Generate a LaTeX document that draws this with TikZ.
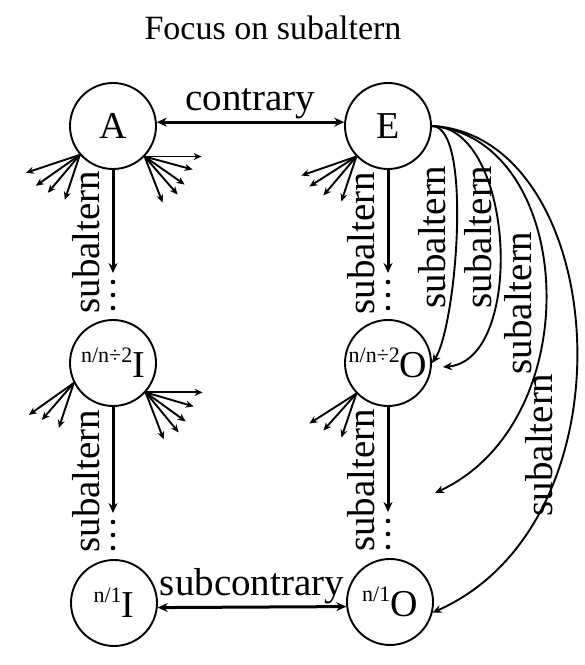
\documentclass[tikz,border=0pt]{standalone}
\usepackage{fontspec}
\setmainfont{Liberation Serif}
\usetikzlibrary{arrows.meta}
\newcommand{\leftsup}[1]{{\fontsize{22}{22}\selectfont\raisebox{15pt}{#1}}}
\tikzset{
  termnode/.style={circle,draw,line width=1.9pt,minimum size=86pt,inner sep=0pt,font=\fontsize{38}{40}\selectfont},
  oppo/.style={{Stealth[length=10pt,width=9pt]}-{Stealth[length=10pt,width=9pt]},line width=3pt},
  subarr/.style={-{Stealth[length=10pt,width=9pt]},line width=3pt},
  fanarr/.style={-{Stealth[length=8pt,width=7pt]},line width=1.9pt},
  subcurve/.style={-{Stealth[length=9pt,width=8pt]},line width=1.9pt},
  rellabel/.style={font=\fontsize{39}{40}\selectfont,inner sep=2pt},
  vlab/.style={rellabel,rotate=90,anchor=south,inner xsep=0pt,inner ysep=12pt}
}
\begin{document}
\begin{tikzpicture}[x=1pt,y=1pt]
\useasboundingbox (0,0) rectangle (585,665);
\node[font=\fontsize{34}{36}\selectfont,anchor=base] (title) at (273,625) {Focus on subaltern};
\node[termnode] (A) at (113,539) {A};
\node[termnode] (E) at (388,539) {E};
\node[termnode] (Im) at (113,302) {\leftsup{n/n÷2}I};
\node[termnode] (Om) at (388,302) {\leftsup{n/n÷2}O};
\node[termnode] (Ib) at (114,62) {\leftsup{n/1}I};
\node[termnode] (Ob) at (390,63) {\leftsup{n/1}O};
\coordinate (gA) at (113,392);
\coordinate (gE) at (388,392);
\coordinate (gI) at (113,152);
\coordinate (gO) at (388,153);
\coordinate (tipa) at (443,298);
\coordinate (tipb) at (435,172);
\draw[oppo] (A.5) -- (E.175) node[rellabel,midway,above] {contrary};
\draw[oppo] (Ib.-6) -- (Ob.186) node[rellabel,midway,above] {subcontrary};
\draw[subarr] (A) -- (gA) node[vlab,pos=.7] {subaltern};
\draw[subarr] (E) -- (gE) node[vlab,pos=.71] {subaltern};
\draw[subarr] (Im) -- (gI) node[vlab,pos=.7] {subaltern};
\draw[subarr] (Om) -- (gO) node[vlab,pos=.7] {subaltern};
\foreach \g in {gA,gE,gI,gO}
  \foreach \k in {0,1,2} \fill ([yshift=-9pt-13pt*\k]\g) circle (2.3);
\foreach \dx/\dy in {-54/-18,-44/-31,-32/-38,-15/-45} \draw[fanarr] (A.221) -- ++(\dx,\dy);
\foreach \dx/\dy in {57/0,48/-13,40/-28,33/-38,18/-46} \draw[fanarr] (A.316) -- ++(\dx,\dy);
\foreach \dx/\dy in {-55/-19,-47/-30,-33/-39,-15/-45} \draw[fanarr] (E.224) -- ++(\dx,\dy);
\foreach \dx/\dy in {-45/-32,-32/-37,-15/-45} \draw[fanarr] (Im.207) -- ++(\dx,\dy);
\foreach \dx/\dy in {57/0,48/-14,40/-29,33/-40,18/-47} \draw[fanarr] (Im.318) -- ++(\dx,\dy);
\foreach \dx/\dy in {-47/-30,-33/-37,-15/-44} \draw[fanarr] (Om.224) -- ++(\dx,\dy);
\draw[subcurve] (E.east) to[out=0,in=55,looseness=.45] (Om.east);
\draw[subcurve] (E.east) to[out=0,in=5,looseness=.88] (tipa);
\draw[subcurve] (E.east) to[out=-5,in=25,out looseness=1.0,in looseness=1.2] (tipb);
\draw[subcurve] (E.east) to[out=-3,in=24,out looseness=.93,in looseness=1.2] (Ob.-14);
\node[rellabel,rotate=90] (s1) at (432,428) {subaltern};
\node[rellabel,rotate=90] (s2) at (478,428) {subaltern};
\node[rellabel,rotate=90] (s3) at (518,362) {subaltern};
\node[rellabel,rotate=90] (s4) at (539,220) {subaltern};
\end{tikzpicture}
\end{document}
